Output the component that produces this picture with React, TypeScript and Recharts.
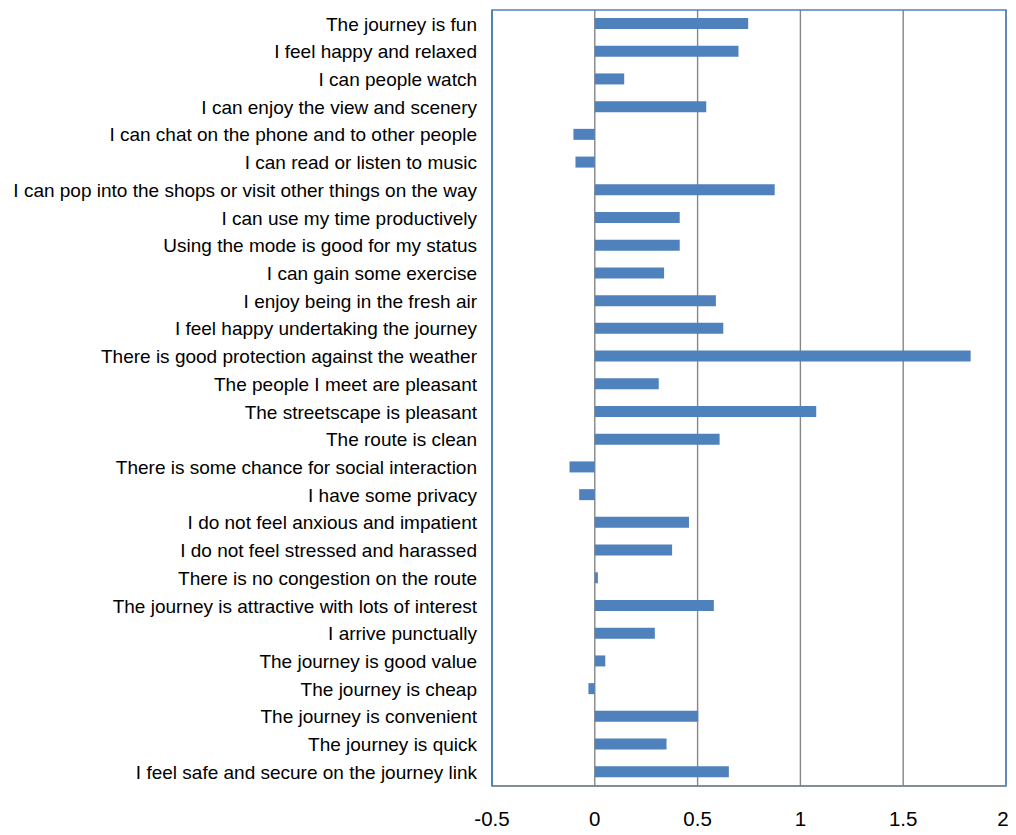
import {BarChart, Bar, XAxis, YAxis, CartesianGrid, ReferenceArea} from 'recharts';

const statements = [
  'The journey is fun',
  'I feel happy and relaxed',
  'I can people watch',
  'I can enjoy the view and scenery',
  'I can chat on the phone and to other people',
  'I can read or listen to music',
  'I can pop into the shops or visit other things on the way',
  'I can use my time productively',
  'Using the mode is good for my status',
  'I can gain some exercise',
  'I enjoy being in the fresh air',
  'I feel happy undertaking the journey',
  'There is good protection against the weather',
  'The people I meet are pleasant',
  'The streetscape is pleasant',
  'The route is clean',
  'There is some chance for social interaction',
  'I have some privacy',
  'I do not feel anxious and impatient',
  'I do not feel stressed and harassed',
  'There is no congestion on the route',
  'The journey is attractive with lots of interest',
  'I arrive punctually',
  'The journey is good value',
  'The journey is cheap',
  'The journey is convenient',
  'The journey is quick',
  'I feel safe and secure on the journey link',
];

const scores = [
  0.746, 0.699, 0.143, 0.542, -0.104, -0.094, 0.875, 0.413, 0.413, 0.337,
  0.589, 0.625, 1.828, 0.311, 1.077, 0.607, -0.123, -0.076, 0.458, 0.376,
  0.015, 0.579, 0.292, 0.051, -0.031, 0.503, 0.349, 0.652,
];

const xTicks = [-0.5, 0, 0.5, 1, 1.5, 2];

const data = statements.map((label, i) => ({label, score: scores[i]}));

const font = 'Liberation Sans, Arial, sans-serif';

const App = () => {
  return (
    <BarChart width={1000} height={826} data={data} layout="vertical"
              margin={{top: 2, right: 2, left: 0, bottom: 8}}
              style={{fontFamily: font}}>
      <CartesianGrid horizontal={false} stroke="#868686" strokeWidth={1.4} />
      <ReferenceArea x1={-0.5} x2={2} fill="none" stroke="#4f81bd" strokeWidth={1.6} />
      <XAxis type="number" domain={[-0.5, 2]} ticks={xTicks} height={40}
             tickLine={false} tickMargin={19}
             axisLine={{stroke: '#868686', strokeWidth: 1.6}}
             tick={{fill: '#000', fontSize: 20.5, fontFamily: font}} />
      <YAxis type="category" dataKey="label" width={484} interval={0}
             tickLine={false} tickMargin={9}
             axisLine={{stroke: '#4f81bd', strokeWidth: 1.6}}
             tick={{fill: '#000', fontSize: 19, fontFamily: font}} />
      <Bar dataKey="score" fill="#4f81bd" barSize={11} isAnimationActive={false} />
    </BarChart>
  );
};

export default App;
